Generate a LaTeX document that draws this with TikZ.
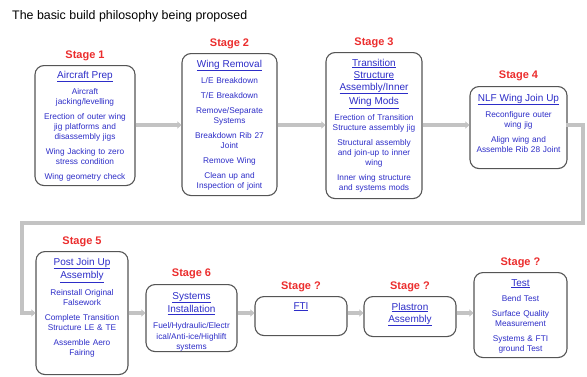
\documentclass[tikz,border=0pt]{standalone}
\usepackage{fontspec}
\setmainfont{Liberation Sans}
\usetikzlibrary{positioning, arrows.meta}
\definecolor{txtblue}{RGB}{45,45,200}
\definecolor{stagered}{RGB}{235,45,45}
\definecolor{edgegray}{RGB}{85,85,85}
\definecolor{flowgray}{RGB}{195,195,195}
\newcommand{\hd}[1]{{\fontsize{10}{12}\selectfont\underline{#1}}}

\begin{document}
\begin{tikzpicture}[x=1pt, y=-1pt,
    stagebox/.style={draw=edgegray, line width=1.1pt, rounded corners=9pt, fill=white,
      anchor=north, align=center, inner xsep=2pt, inner ysep=0pt, text=txtblue,
      font=\fontsize{8.3}{10}\selectfont, text height=13.5pt},
    stagelab/.style={text=stagered, font=\fontsize{11}{13}\selectfont\bfseries, inner sep=0pt},
    flow/.style={draw=flowgray, line width=4pt, -{Triangle[length=4pt, width=7pt]}}]
  \useasboundingbox (0,0) rectangle (587,376);
  \node[anchor=west, inner sep=0pt, font=\fontsize{12.4}{14}\selectfont] (title) at (12,16)
    {The basic build philosophy being proposed};

  % top row
  \node[stagebox, text width=96pt, text height=12.5pt, text depth=107.5pt] (s1) at (85,65)
    {\hd{Aircraft Prep}\\[5.5pt]
     Aircraft\\jacking/levelling\\[5pt]
     Erection of outer wing\\jig platforms and\\disassembly jigs\\[5pt]
     Wing Jacking to zero\\stress condition\\[5pt]
     Wing geometry check};
  \node[stagebox, text width=91pt, text depth=128.5pt] (s2) at (229.5,53)
    {\hd{Wing Removal}\\[5.5pt]
     L/E Breakdown\\[5pt]
     T/E Breakdown\\[5pt]
     Remove/Separate\\Systems\\[5pt]
     Breakdown Rib 27\\Joint\\[5pt]
     Remove Wing\\[5pt]
     Clean up and\\Inspection of joint};
  \node[stagebox, text width=92pt, text depth=132.5pt] (s3) at (374,52)
    {\hd{Transition}\\[2pt]\hd{Structure}\\[2pt]\hd{Assembly/Inner}\\[2pt]\hd{Wing Mods}\\[5.5pt]
     Erection of Transition\\Structure assembly jig\\[5pt]
     Structural assembly\\and join-up to inner\\wing\\[5pt]
     Inner wing structure\\and systems mods};
  \node[stagebox, text width=93pt, text height=14.5pt, text depth=67.5pt] (s4) at (518.5,86)
    {\hd{NLF Wing Join Up}\\[5.5pt]
     Reconfigure outer\\wing jig\\[5pt]
     Align wing and\\Assemble Rib 28 Joint};

  % bottom row
  \node[stagebox, text width=88pt, text depth=109.5pt] (s5) at (82,251)
    {\hd{Post Join Up}\\[1.5pt]\hd{Assembly}\\[6pt]
     Reinstall Original\\Falsework\\[5pt]
     Complete Transition\\Structure LE \& TE\\[5pt]
     Assemble Aero\\Fairing};
  \node[stagebox, text width=87pt, text height=14.5pt, text depth=52.5pt] (s6) at (191.5,284)
    {\hd{Systems}\\[1.5pt]\hd{Installation}\\[5.5pt]
     Fuel/Hydraulic/Electr\\[1pt]ical/Anti-ice/Highlift\\systems};
  \node[stagebox, text width=88pt, text height=12.5pt, text depth=26.5pt] (s7) at (301,296)
    {\hd{FTI}};
  \node[stagebox, text width=88pt, text depth=26.5pt] (s8) at (410,296)
    {\hd{Plastron}\\[2pt]\hd{Assembly}};
  \node[stagebox, text width=89pt, text depth=71.5pt] (s9) at (520.5,272)
    {\hd{Test}\\[5.5pt]
     Bend Test\\[5pt]
     Surface Quality\\Measurement\\[5pt]
     Systems \& FTI\\ground Test};

  % stage labels
  \node[stagelab, above=4pt of s1] (l1) {Stage 1};
  \node[stagelab, above=4pt of s2] (l2) {Stage 2};
  \node[stagelab, above=4pt of s3] (l3) {Stage 3};
  \node[stagelab, above=5pt of s4] (l4) {Stage 4};
  \node[stagelab, above=4pt of s5] (l5) {Stage 5};
  \node[stagelab, above=5pt of s6] (l6) {Stage 6};
  \node[stagelab, above=4pt of s7] (l7) {Stage ?};
  \node[stagelab, above=4pt of s8] (l8) {Stage ?};
  \node[stagelab, above=4pt of s9] (l9) {Stage ?};

  % flow
  \coordinate (c1) at (583,125);
  \coordinate (c2) at (583,223);
  \coordinate (c3) at (22,223);
  \coordinate (c4) at (22,313);
  \draw[flow] (s1.east |- 0,125) -- (s2.west |- 0,125);
  \draw[flow] (s2.east |- 0,125) -- (s3.west |- 0,125);
  \draw[flow] (s3.east |- 0,125) -- (s4.west |- 0,125);
  \draw[flow, line cap=rect] (s4.east |- c1) -- (c1) -- (c2) -- (c3) -- (c4) -- (s5.west |- c4);
  \draw[flow] (s5.east |- c4) -- (s6.west |- c4);
  \draw[flow] (s6.east |- c4) -- (s7.west |- c4);
  \draw[flow] (s7.east |- c4) -- (s8.west |- c4);
  \draw[flow] (s8.east |- c4) -- (s9.west |- c4);
\end{tikzpicture}
\end{document}
